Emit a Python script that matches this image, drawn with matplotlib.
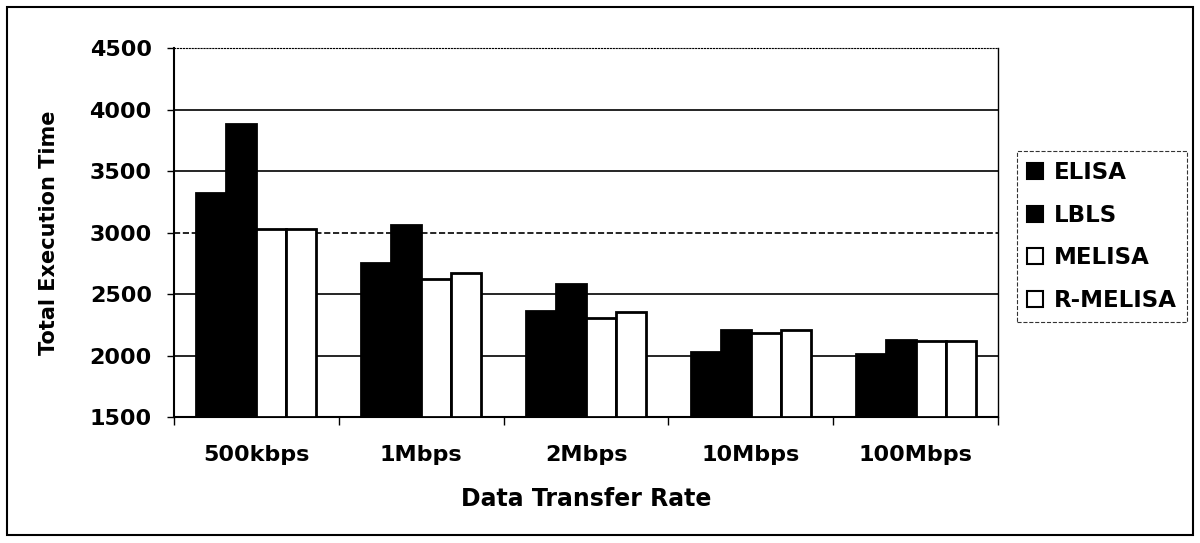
import matplotlib
matplotlib.use("Agg")
import matplotlib.pyplot as plt
from matplotlib.patches import Patch, Rectangle
import numpy as np

plt.rcParams['font.family'] = ['DejaVu Sans']
plt.rcParams['font.weight'] = 'bold'

# 数据
rates = ['500kbps', '1Mbps', '2Mbps', '10Mbps', '100Mbps']
series_names = ['ELISA', 'LBLS', 'MELISA', 'R-MELISA']
elisa = [3320, 2750, 2360, 2030, 2010]
lbls = [3880, 3060, 2580, 2210, 2130]
melisa = [3030, 2620, 2305, 2180, 2120]
r_melisa = [3030, 2670, 2350, 2210, 2120]
yticks = [1500, 2000, 2500, 3000, 3500, 4000, 4500]

fig = plt.figure(figsize=(12, 5.43), dpi=100)
ax = fig.add_axes([0.145, 0.232, 0.6867, 0.6796])

x = np.arange(len(rates))
w = 1 / 5.5
faces = ['black', 'black', 'white', 'white']
for i, (vals, fc) in enumerate(zip([elisa, lbls, melisa, r_melisa], faces)):
    ax.bar(x + (i - 1.5) * w, np.array(vals) - 1500, width=w, bottom=1500,
           color=fc, edgecolor='black', linewidth=2, zorder=3)

ax.set_xlim(-0.5, len(rates) - 0.5)
ax.set_ylim(1500, 4500)
ax.set_yticks(yticks)

# 网格线
for v in yticks[1:-1]:
    ls = '--' if v == 3000 else '-'
    ax.axhline(v, color='black', linewidth=1.2, linestyle=ls, zorder=1)

ax.set_xticks(x)
ax.set_xticklabels(rates)
ax.set_xticks(np.arange(len(rates) + 1) - 0.5, minor=True)
ax.tick_params(axis='x', which='major', length=0, pad=20, labelsize=16)
ax.tick_params(axis='x', which='minor', length=6, direction='out', width=1)
ax.tick_params(axis='y', length=5, width=1, pad=11, labelsize=16)

for s in ['left', 'bottom']:
    ax.spines[s].set_linewidth(1.5)
ax.spines['top'].set_linestyle(':')
ax.spines['top'].set_linewidth(0.8)
ax.spines['right'].set_linewidth(1.0)

ax.set_xlabel('Data Transfer Rate', fontsize=17, fontweight='bold', labelpad=16)
ax.set_ylabel('Total Execution Time', fontsize=15, fontweight='bold', labelpad=22)

handles = [Patch(facecolor=fc, edgecolor='black', linewidth=1.5) for fc in faces]
leg = fig.legend(handles, series_names, loc='upper left',
                 bbox_to_anchor=(1017 / 1200, 1 - 151 / 543),
                 fontsize=16.5, handlelength=0.7, handleheight=0.7,
                 handletextpad=0.45, labelspacing=0.85, borderpad=0.45,
                 borderaxespad=0, fancybox=False, frameon=True)
leg.get_frame().set_edgecolor('black')
leg.get_frame().set_linestyle('--')
leg.get_frame().set_linewidth(0.8)

# 外框
fig.patches.append(Rectangle((7 / 1200, 8 / 543), 1186 / 1200, 528 / 543,
                             transform=fig.transFigure, fill=False,
                             edgecolor='black', linewidth=1.5))

fig.savefig('out.png', dpi=100)
